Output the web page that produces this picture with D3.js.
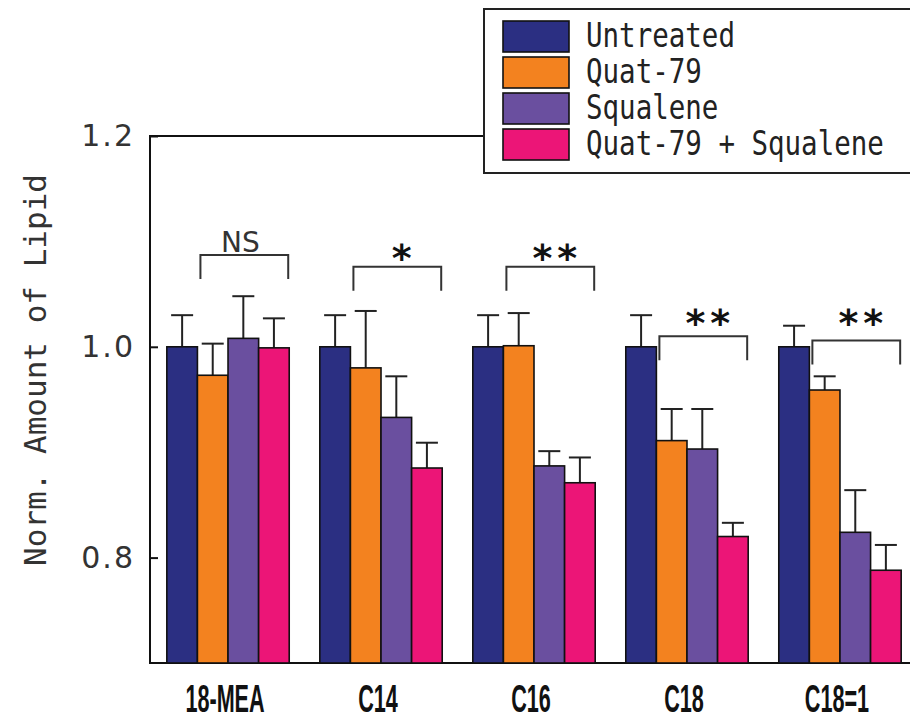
<!DOCTYPE html>
<html>
<head>
<meta charset="utf-8">
<script src="https://cdn.jsdelivr.net/npm/d3@7"></script>
<style>
  body { margin: 0; background: #fff; }
  svg { display: block; }
</style>
</head>
<body>
<div id="chart"></div>
<script>
// data
var groups = ["18-MEA", "C14", "C16", "C18", "C18=1"];
var series = ["Untreated", "Quat-79", "Squalene", "Quat-79 + Squalene"];
var colors = ["#2b2f82", "#f3821f", "#6a4f9f", "#ec1577"];

var untreated = [1.000, 1.000, 1.000, 1.000, 1.000];
var quat79 = [0.973, 0.980, 1.001, 0.911, 0.959];
var squalene = [1.008, 0.933, 0.887, 0.903, 0.824];
var combo = [0.999, 0.885, 0.871, 0.820, 0.788];

var untreatedErr = [0.030, 0.030, 0.030, 0.030, 0.020];
var quat79Err = [0.030, 0.054, 0.031, 0.030, 0.013];
var squaleneErr = [0.040, 0.039, 0.014, 0.038, 0.040];
var comboErr = [0.028, 0.024, 0.024, 0.013, 0.024];

var sigLabels = ["NS", "*", "**", "**", "**"];
var sigTop = [1.087, 1.076, 1.076, 1.010, 1.006];
var sigLabelY = [1.0895, 1.0924, 1.0924, 1.0314, 1.0314];

var yTicks = [0.8, 1.0, 1.2];

var svgWidth = 910;
var svgHeight = 725;

var svg = d3.select("#chart")
  .append("svg")
  .attr("width", svgWidth)
  .attr("height", svgHeight);

var x0 = d3.scaleBand()
  .domain(groups)
  .range([150, 918])
  .paddingInner(0.2)
  .paddingOuter(0.11);

var x1 = d3.scaleBand()
  .domain(series)
  .range([0, x0.bandwidth()]);

var y = d3.scaleLinear()
  .domain([0.7, 1.2])
  .range([663, 136]);

var values = [untreated, quat79, squalene, combo];
var errors = [untreatedErr, quat79Err, squaleneErr, comboErr];

var rows = [];
groups.forEach(function(g, gi) {
  series.forEach(function(s, si) {
    rows.push({ group: g, series: s, idx: si, value: values[si][gi], err: errors[si][gi] });
  });
});

// plot frame
svg.append("rect")
  .attr("x", x0.range()[0])
  .attr("y", y(1.2))
  .attr("width", x0.range()[1] - x0.range()[0])
  .attr("height", y(0.7) - y(1.2))
  .attr("fill", "none")
  .attr("stroke", "#111")
  .attr("stroke-width", 2);

// error bars (drawn first so the bar outline sits on top)
var errG = svg.append("g")
  .attr("stroke", "#222")
  .attr("stroke-width", 2);

rows.forEach(function(d) {
  var cx = x0(d.group) + x1(d.series) + x1.bandwidth() / 2;
  errG.append("line")
    .attr("x1", cx).attr("x2", cx)
    .attr("y1", y(d.value)).attr("y2", y(d.value + d.err));
  errG.append("line")
    .attr("x1", cx - 11).attr("x2", cx + 11)
    .attr("y1", y(d.value + d.err)).attr("y2", y(d.value + d.err));
});

svg.append("g")
  .selectAll("rect")
  .data(rows)
  .enter()
  .append("rect")
  .attr("x", d => x0(d.group) + x1(d.series))
  .attr("y", d => y(d.value))
  .attr("width", x1.bandwidth())
  .attr("height", d => y(0.7) - y(d.value))
  .attr("fill", d => colors[d.idx])
  .attr("stroke", "#111")
  .attr("stroke-width", 1.6);

// y axis with inward ticks
var leftAxis = d3.axisLeft(y)
  .tickValues(yTicks)
  .tickSizeInner(-8)
  .tickSizeOuter(0)
  .tickPadding(15)
  .tickFormat(d3.format(".1f"));

var yAxis = svg.append("g")
  .attr("transform", "translate(150,0)")
  .call(leftAxis);

yAxis.select(".domain").remove();
yAxis.selectAll(".tick line").attr("stroke", "#111").attr("stroke-width", 2);
yAxis.selectAll(".tick text")
  .attr("font-family", "DejaVu Sans")
  .attr("font-size", 30)
  .attr("letter-spacing", 2)
  .attr("fill", "#333");

svg.append("text")
  .attr("transform", "translate(46," + 370 + ") rotate(-90)")
  .attr("text-anchor", "middle")
  .attr("font-family", "DejaVu Sans Mono")
  .attr("font-size", 31)
  .attr("fill", "#333")
  .text("Norm. Amount of Lipid");

// x labels
svg.append("g")
  .selectAll("text")
  .data(groups)
  .enter()
  .append("text")
  .attr("transform", d => "translate(" + (x0(d) + x0.bandwidth() / 2 - 3) + ",712) scale(0.8,1.45)")
  .attr("text-anchor", "middle")
  .attr("font-family", "Liberation Sans")
  .attr("font-weight", "bold")
  .attr("font-size", 27)
  .attr("fill", "#111")
  .text(d => d);

// significance brackets
var sigG = svg.append("g");
groups.forEach(function(g, gi) {
  var left = x0(g) + x1("Quat-79") + 3;
  var right = x0(g) + x1("Quat-79 + Squalene") + x1.bandwidth() - 1;
  var top = y(sigTop[gi]);
  sigG.append("path")
    .attr("d", "M" + left + "," + (top + 24) + "V" + top + "H" + right + "V" + (top + 24))
    .attr("fill", "none")
    .attr("stroke", "#333")
    .attr("stroke-width", 2);

  var mid = (left + right) / 2;
  if (sigLabels[gi] === "NS") {
    sigG.append("text")
      .attr("x", mid - 4)
      .attr("y", y(sigLabelY[gi]))
      .attr("text-anchor", "middle")
      .attr("font-family", "DejaVu Sans")
      .attr("font-size", 28)
      .attr("fill", "#333")
      .text("NS");
  } else {
    sigG.append("text")
      .attr("x", mid + 7)
      .attr("y", y(sigLabelY[gi]) + 22)
      .attr("text-anchor", "middle")
      .attr("font-family", "DejaVu Sans")
      .attr("font-weight", "bold")
      .attr("font-size", 38)
      .attr("letter-spacing", 5)
      .attr("fill", "#111")
      .text(sigLabels[gi]);
  }
});

// legend
var legend = svg.append("g");
legend.append("rect")
  .attr("x", 484)
  .attr("y", 9)
  .attr("width", 440)
  .attr("height", 164)
  .attr("fill", "#fff")
  .attr("stroke", "#222")
  .attr("stroke-width", 2);

series.forEach(function(s, i) {
  var ly = 21 + i * 36;
  legend.append("rect")
    .attr("x", 503)
    .attr("y", ly)
    .attr("width", 66)
    .attr("height", 31)
    .attr("fill", colors[i])
    .attr("stroke", "#111")
    .attr("stroke-width", 1.6);
  legend.append("text")
    .attr("transform", "translate(586," + (ly + 26) + ") scale(1,1.2)")
    .attr("font-family", "DejaVu Sans Mono")
    .attr("font-size", 27.5)
    .attr("fill", "#222")
    .text(s);
});
</script>
</body>
</html>
